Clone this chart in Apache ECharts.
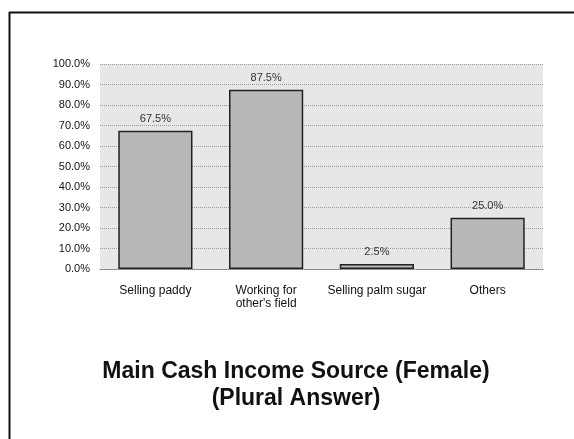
<!DOCTYPE html>
<html>
<head>
<meta charset="utf-8">
<script src="https://cdn.jsdelivr.net/npm/echarts@6/dist/echarts.min.js"></script>
<style>
  html, body { margin: 0; padding: 0; background: #fff; }
  #chart { width: 574px; height: 439px; }
</style>
</head>
<body>
<div id="chart"></div>
<script>
// 데이터 — 그림에서 읽은 값
const categories = ["Selling paddy", "Working for\nother's field", "Selling palm sugar", "Others"];
const shares = [67.5, 87.5, 2.5, 25.0];
const yTicks = [0, 10, 20, 30, 40, 50, 60, 70, 80, 90, 100];
const titleLines = ["Main Cash Income Source (Female)", "(Plural Answer)"];

const FONT = "Arial, 'Liberation Sans', sans-serif";
const chart = echarts.init(document.getElementById("chart"), null, { renderer: "canvas" });

chart.setOption({
  backgroundColor: "#fff",
  animation: false,
  textStyle: { fontFamily: FONT },
  grid: {
    left: 100, right: 31, top: 64, bottom: 170,
    show: true, backgroundColor: "#e7e7e7", borderWidth: 0
  },
  xAxis: {
    type: "category",
    data: categories,
    axisLine: { show: true, lineStyle: { color: "#777", type: "dotted", width: 1 } },
    axisTick: { show: false },
    axisLabel: { fontFamily: FONT, fontSize: 12, color: "#111", margin: 15, lineHeight: 13, interval: 0 }
  },
  yAxis: {
    type: "value",
    min: yTicks[0],
    max: yTicks[yTicks.length - 1],
    interval: 10,
    axisLine: { show: false },
    axisTick: { show: false },
    splitLine: { show: true, lineStyle: { color: "#9a9a9a", type: "dotted", width: 1 } },
    axisLabel: { fontFamily: FONT, fontSize: 11, color: "#111", margin: 10, formatter: (v) => v.toFixed(1) + "%" }
  },
  series: [{
    type: "bar",
    data: shares,
    barWidth: "67%",
    itemStyle: { color: "#b8b8b8", borderColor: "#222", borderWidth: 1.5 },
    label: {
      show: true, position: "top", distance: 6,
      fontFamily: FONT, fontSize: 11, color: "#333",
      formatter: (p) => p.value.toFixed(1) + "%"
    }
  }],
  graphic: [
    { type: "line", shape: { x1: 9, y1: 12.5, x2: 574, y2: 12.5 }, style: { stroke: "#111", lineWidth: 2 } },
    { type: "line", shape: { x1: 9.5, y1: 12, x2: 9.5, y2: 439 }, style: { stroke: "#111", lineWidth: 2 } },
    {
      type: "text", x: 296, y: 385,
      style: {
        text: titleLines.join("\n"),
        align: "center", verticalAlign: "middle",
        fontFamily: FONT, fontSize: 23, fontWeight: "bold", fill: "#111", lineHeight: 27
      }
    }
  ]
});
</script>
</body>
</html>
